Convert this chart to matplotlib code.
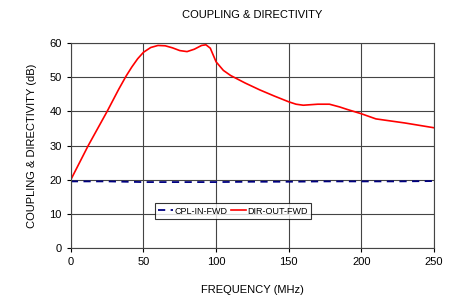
import matplotlib.pyplot as plt

plt.rcParams['font.family'] = ['Liberation Sans', 'DejaVu Sans']

# DIR-OUT-FWD (red solid)
dir_freq = [0, 12, 25, 33, 38, 42, 46, 50, 55, 60, 65, 70, 75, 80, 85, 90,
            93, 96, 100, 105, 110, 120, 130, 140, 150, 155, 160, 170, 178, 185, 190,
            200, 210, 220, 230, 240, 250]
dir_db = [20, 30, 40, 46.5, 50.3, 53, 55.4, 57.3, 58.7, 59.3, 59.2,
          58.6, 57.8, 57.5, 58.2, 59.3, 59.5, 58.5, 54.5, 52, 50.5, 48.3, 46.3, 44.5,
          42.8, 42.1, 41.8, 42.1, 42.1, 41.3, 40.6, 39.3, 37.8, 37.2, 36.6, 35.9, 35.2]

# CPL-IN-FWD (blue dashed)
cpl_freq = [0, 25, 50, 75, 100, 125, 150, 175, 200, 225, 250]
cpl_db = [19.5, 19.5, 19.3, 19.3, 19.3, 19.4, 19.4, 19.5, 19.5, 19.5, 19.6]

fig = plt.figure(figsize=(4.54, 2.97), dpi=100)
ax = fig.add_axes([0.156, 0.165, 0.80, 0.69])

ax.plot(cpl_freq, cpl_db, color='#000080', lw=1.3, ls=(0, (4, 3)), label='CPL-IN-FWD')
ax.plot(dir_freq, dir_db, color='#FF0000', lw=1.2, label='DIR-OUT-FWD')

ax.set_xlim(0, 250)
ax.set_ylim(0, 60)
ax.set_xticks(range(0, 251, 50))
ax.set_yticks(range(0, 61, 10))
ax.grid(True, color='#444444', lw=0.8)
ax.set_axisbelow(True)
for s in ax.spines.values():
    s.set_color('#444444')
    s.set_linewidth(0.8)
ax.tick_params(labelsize=8, length=3, color='black')

ax.set_title('COUPLING & DIRECTIVITY', fontsize=8, pad=18)
ax.set_xlabel('FREQUENCY (MHz)', fontsize=8, labelpad=13)
ax.set_ylabel('COUPLING & DIRECTIVITY (dB)', fontsize=8, labelpad=9)

leg = ax.legend(loc='center', bbox_to_anchor=(0.446, 0.18), ncol=2, fontsize=6.5,
                frameon=True, fancybox=False, edgecolor='black', handlelength=1.7,
                handletextpad=0.1, columnspacing=0.4, borderpad=0.35)
leg.get_frame().set_linewidth(0.8)

plt.savefig('out.png', dpi=100)
